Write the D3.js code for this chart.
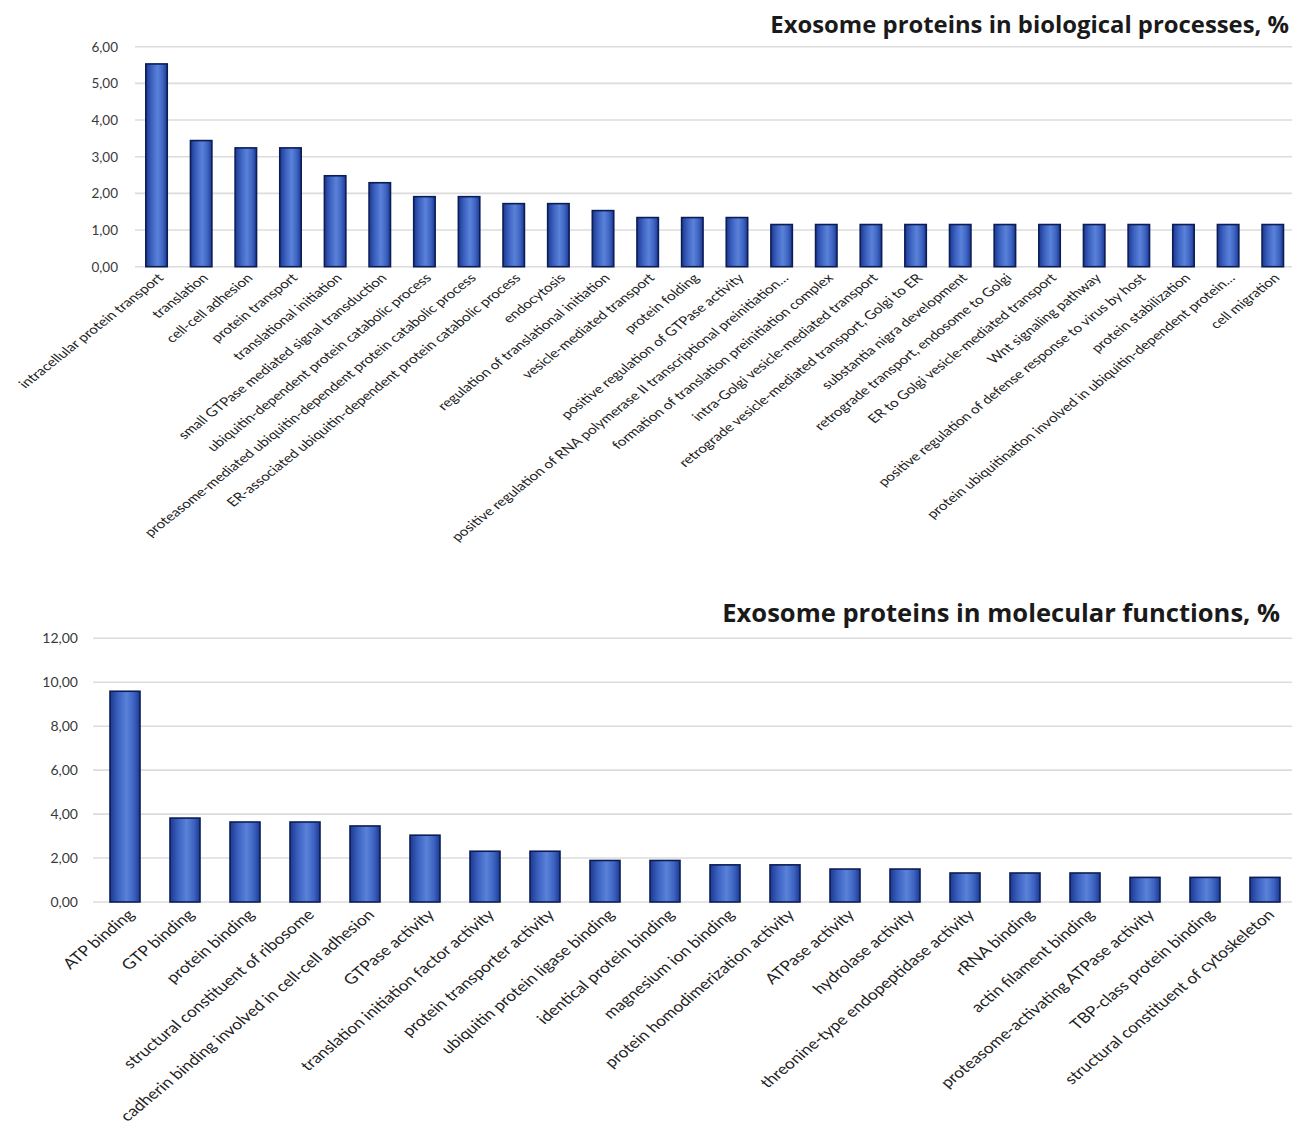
<!DOCTYPE html>
<html><head><meta charset="utf-8">
<script src="https://cdn.jsdelivr.net/npm/d3@7"></script>
<style>
html,body{margin:0;padding:0;background:#fff;}
svg{display:block;font-family:Lato,"Open Sans",sans-serif;}
</style></head>
<body><svg id="chart" width="1292" height="1135"></svg>
<script>
// ---- data ----
const bpTitle = "Exosome proteins in biological processes, %";
const bpCategories = [
  "intracellular protein transport","translation","cell-cell adhesion","protein transport",
  "translational initiation","small GTPase mediated signal transduction",
  "ubiquitin-dependent protein catabolic process",
  "proteasome-mediated ubiquitin-dependent protein catabolic process",
  "ER-associated ubiquitin-dependent protein catabolic process","endocytosis",
  "regulation of translational initiation","vesicle-mediated transport","protein folding",
  "positive regulation of GTPase activity",
  "positive regulation of RNA polymerase II transcriptional preinitiation…",
  "formation of translation preinitiation complex","intra-Golgi vesicle-mediated transport",
  "retrograde vesicle-mediated transport, Golgi to ER","substantia nigra development",
  "retrograde transport, endosome to Golgi","ER to Golgi vesicle-mediated transport",
  "Wnt signaling pathway","positive regulation of defense response to virus by host",
  "protein stabilization","protein ubiquitination involved in ubiquitin-dependent protein…",
  "cell migration"];
const bpValues = [5.53,3.44,3.24,3.24,2.48,2.29,1.91,1.91,1.72,1.72,1.53,1.34,1.34,1.34,
  1.15,1.15,1.15,1.15,1.15,1.15,1.15,1.15,1.15,1.15,1.15,1.15];
const bpTicks = [0,1,2,3,4,5,6];

const mfTitle = "Exosome proteins in molecular functions, %";
const mfCategories = [
  "ATP binding","GTP binding","protein binding","structural constituent of ribosome",
  "cadherin binding involved in cell-cell adhesion","GTPase activity",
  "translation initiation factor activity","protein transporter activity",
  "ubiquitin protein ligase binding","identical protein binding","magnesium ion binding",
  "protein homodimerization activity","ATPase activity","hydrolase activity",
  "threonine-type endopeptidase activity","rRNA binding","actin filament binding",
  "proteasome-activating ATPase activity","TBP-class protein binding",
  "structural constituent of cytoskeleton"];
const mfValues = [9.59,3.82,3.64,3.64,3.46,3.04,2.31,2.31,1.89,1.89,1.69,1.69,1.50,1.50,
  1.32,1.32,1.32,1.12,1.12,1.12];
const mfTicks = [0,2,4,6,8,10,12];

// ---- drawing ----
const svg = d3.select("#chart");
const locale = d3.formatLocale({decimal:",", thousands:".", grouping:[3], currency:["",""]});
const fmt = locale.format(".2f");

const defs = svg.append("defs");
const grad = defs.append("linearGradient").attr("id","barGrad").attr("x1","0").attr("x2","1").attr("y1","0").attr("y2","0");
grad.append("stop").attr("offset","0%").attr("stop-color","#1c3890");
grad.append("stop").attr("offset","28%").attr("stop-color","#3d63c2");
grad.append("stop").attr("offset","55%").attr("stop-color","#5a82d8");
grad.append("stop").attr("offset","80%").attr("stop-color","#3d63c2");
grad.append("stop").attr("offset","100%").attr("stop-color","#1c3890");

function drawChart(o){
  const g = svg.append("g");
  const x = d3.scaleBand().domain(o.categories).range([o.x0,o.x1])
    .paddingInner(o.padIn).paddingOuter(o.padIn/2);
  const y = d3.scaleLinear().domain([0,o.max]).range([o.y0,o.yTop]);

  // gridlines
  g.append("g").selectAll("line").data(o.ticks).join("line")
    .attr("x1",o.gridX0).attr("x2",o.gridX1)
    .attr("y1",d=>y(d)).attr("y2",d=>y(d))
    .attr("stroke","#dcdcdc").attr("stroke-width",1.6);

  // y axis labels
  const ya = d3.axisLeft(y).tickValues(o.ticks).tickFormat(fmt).tickSize(0).tickPadding(0);
  const yg = g.append("g").attr("transform",`translate(${o.yLabelX},0)`).call(ya);
  yg.select(".domain").remove();
  yg.selectAll("text").attr("font-size",o.tickFont).attr("fill","#3a3a3a")
    .attr("font-family","Lato,'Open Sans',sans-serif");

  // bars
  g.append("g").selectAll("rect").data(o.values).join("rect")
    .attr("x",(d,i)=>x(o.categories[i]))
    .attr("width",x.bandwidth())
    .attr("y",d=>y(d))
    .attr("height",d=>o.y0-y(d))
    .attr("fill","url(#barGrad)")
    .attr("stroke","#0c1d55").attr("stroke-width",1.6);

  // x labels (rotated, slightly stretched horizontally like the source image)
  const xa = d3.axisBottom(x).tickSize(0).tickPadding(0);
  const xg = g.append("g").attr("transform",`translate(0,${o.y0})`).call(xa);
  xg.select(".domain").remove();
  xg.selectAll("text")
    .attr("font-size",o.labelFont).attr("fill","#222")
    .attr("font-family","Lato,'Open Sans',sans-serif")
    .attr("text-anchor","end").attr("dy","0.35em").attr("y",0)
    .attr("transform",`translate(${o.lblDx},${o.lblDy}) scale(${o.stretch},1) rotate(-45)`);

  // title
  const t = g.append("text").text(o.title)
    .attr("x",o.titleRight).attr("y",o.titleY)
    .attr("text-anchor","end").attr("font-weight","bold")
    .attr("font-size",o.titleFont).attr("fill","#1a1a1a")
    .attr("font-family","'Open Sans',Lato,sans-serif");
  const w = t.node().getComputedTextLength();
  t.attr("font-size", o.titleFont*o.titleWidth/w);
}

drawChart({
  categories:bpCategories, values:bpValues, ticks:bpTicks, max:6,
  x0:134.2, x1:1295.1, padIn:0.52, y0:266.7, yTop:46.7,
  gridX0:135, gridX1:1292, yLabelX:118, tickFont:13.5,
  labelFont:12.2, lblDx:4, lblDy:9, stretch:1.26,
  title:bpTitle, titleRight:1289, titleY:33, titleFont:20, titleWidth:519
});
drawChart({
  categories:mfCategories, values:mfValues, ticks:mfTicks, max:12,
  x0:95, x1:1295, padIn:0.5, y0:902, yTop:638.3,
  gridX0:93, gridX1:1292, yLabelX:78, tickFont:14,
  labelFont:14.6, lblDx:6, lblDy:10, stretch:1.2,
  title:mfTitle, titleRight:1280, titleY:622, titleFont:22, titleWidth:558
});
</script></body></html>
